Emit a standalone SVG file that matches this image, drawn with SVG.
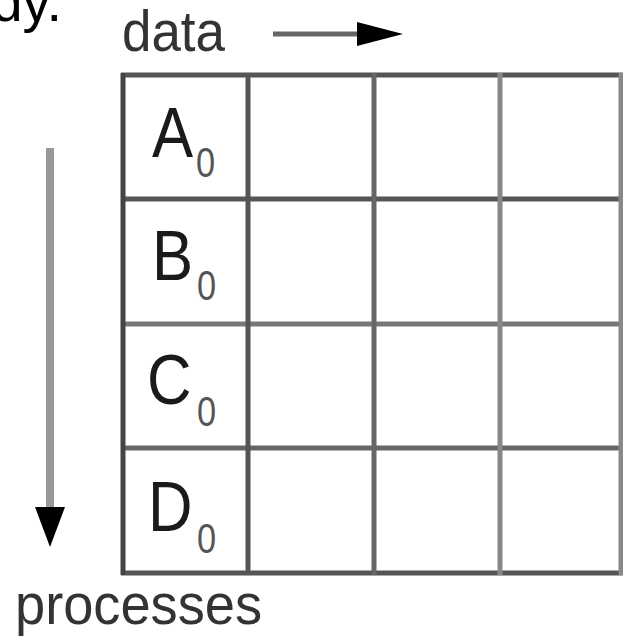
<svg xmlns="http://www.w3.org/2000/svg" width="623" height="637" viewBox="0 0 623 637">
  <defs>
    <style>
      text { font-family: "Liberation Sans", Arial, sans-serif; }
      .cap { font-size: 70px; fill: #1a1a1a; }
      .sub { font-size: 43px; fill: #555555; }
      .axis { font-size: 57px; fill: #333333; }
      .grid line { stroke-width: 5; }
    </style>
  </defs>

  <rect width="623" height="637" fill="#ffffff"/>

  <!-- tail of the preceding sentence -->
  <text x="62" y="21" text-anchor="end" font-size="56" fill="#000000">dy.</text>

  <!-- axis captions -->
  <text class="axis" x="122" y="51" textLength="103" lengthAdjust="spacingAndGlyphs">data</text>
  <text class="axis" x="15" y="624" textLength="247" lengthAdjust="spacingAndGlyphs">processes</text>

  <!-- grid of data blocks per process -->
  <g id="grid" class="grid">
    <line x1="121" y1="75" x2="623" y2="75" stroke="#555555"/>
    <line x1="121" y1="199" x2="623" y2="199" stroke="#555555"/>
    <line x1="121" y1="324" x2="623" y2="324" stroke="#777777"/>
    <line x1="121" y1="448" x2="623" y2="448" stroke="#666666"/>
    <line x1="121" y1="573" x2="623" y2="573" stroke="#555555"/>
    <line x1="123" y1="73" x2="123" y2="575" stroke="#444444"/>
    <line x1="248" y1="73" x2="248" y2="575" stroke="#555555"/>
    <line x1="374" y1="73" x2="374" y2="575" stroke="#666666"/>
    <line x1="500" y1="73" x2="500" y2="575" stroke="#888888"/>
    <line x1="621" y1="73" x2="621" y2="575" stroke="#888888"/>
  </g>

  <!-- labelled cells of the first column -->
  <g id="cell-a0">
    <text class="cap" transform="translate(152,157) scale(0.88,1)">A</text>
    <text class="sub" transform="translate(196,177) scale(0.8,1)">0</text>
  </g>
  <g id="cell-b0">
    <text class="cap" transform="translate(152,280) scale(0.88,1)">B</text>
    <text class="sub" transform="translate(197,300) scale(0.8,1)">0</text>
  </g>
  <g id="cell-c0">
    <text class="cap" transform="translate(147,404) scale(0.88,1)">C</text>
    <text class="sub" transform="translate(197,426) scale(0.8,1)">0</text>
  </g>
  <g id="cell-d0">
    <text class="cap" transform="translate(148,531) scale(0.88,1)">D</text>
    <text class="sub" transform="translate(197,553) scale(0.8,1)">0</text>
  </g>

  <!-- axis arrows -->
  <g id="connectors">
    <line x1="273" y1="34" x2="360" y2="34" stroke="#666666" stroke-width="5"/>
    <polygon points="357,22 403,34 357,46" fill="#000000"/>
    <line x1="50" y1="148" x2="50" y2="510" stroke="#999999" stroke-width="8"/>
    <polygon points="35,507 65,507 50,547" fill="#000000"/>
  </g>
</svg>
